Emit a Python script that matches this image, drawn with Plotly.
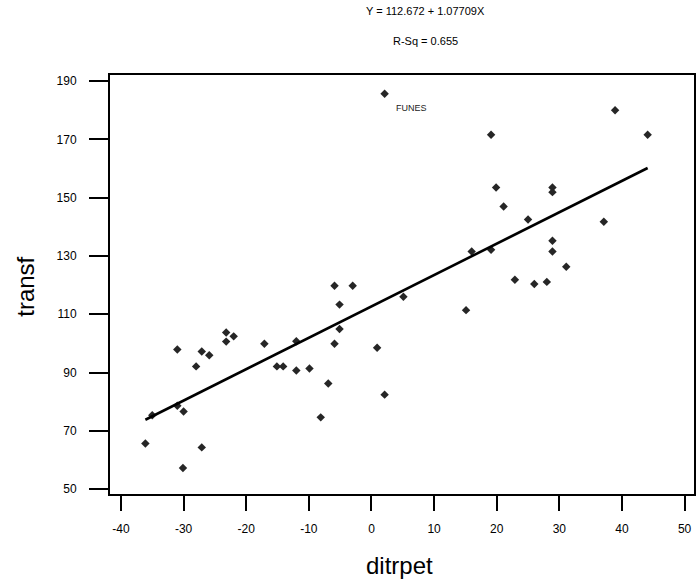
import plotly.graph_objects as go

# data
ditrpet = [-36.1, -35.0, -31.0, -31.0, -30.0, -30.1, -28.0, -27.1, -27.1, -25.9,
           -23.2, -23.2, -22.0, -17.1, -15.1, -14.1, -12.0, -12.0, -9.9, -8.1,
           -6.9, -5.9, -5.9, -5.1, -5.1, -3.0, 0.9, 2.1, 2.1, 5.1,
           15.1, 16.0, 19.1, 19.1, 19.9, 21.1, 22.9, 25.0, 26.0, 28.0,
           28.9, 28.9, 28.9, 28.9, 31.1, 37.1, 38.9, 44.1]
transf = [65.6, 75.3, 97.9, 78.6, 76.6, 57.2, 92.1, 97.2, 64.3, 95.9,
          103.7, 100.6, 102.4, 99.9, 92.1, 92.1, 100.7, 90.7, 91.4, 74.6,
          86.2, 119.8, 99.9, 113.3, 104.9, 119.8, 98.5, 82.4, 185.7, 116.0,
          111.4, 131.5, 132.1, 171.6, 153.5, 147.0, 121.8, 142.5, 120.4, 121.1,
          153.5, 151.9, 135.2, 131.5, 126.3, 141.7, 180.0, 171.6]

intercept = 112.672
slope = 1.07709
r_sq = 0.655

label_name = "FUNES"
label_x = 2.1
label_y = 185.7

x_ticks = list(range(-40, 51, 10))
y_ticks = list(range(50, 191, 20))

FONT = "Arial, Liberation Sans, sans-serif"

fig = go.Figure()

fig.add_trace(go.Scatter(
    x=ditrpet, y=transf, mode="markers",
    marker=dict(symbol="diamond", size=6.5, color="#262626"),
    showlegend=False, hoverinfo="x+y"))

fit_x = [min(ditrpet), max(ditrpet)]
fit_y = [intercept + slope * v for v in fit_x]
fig.add_trace(go.Scatter(
    x=fit_x, y=fit_y, mode="lines",
    line=dict(color="black", width=2.6),
    showlegend=False, hoverinfo="skip"))

fig.add_annotation(x=label_x, y=label_y, text=label_name, showarrow=False,
                   xanchor="left", yanchor="middle", xshift=9, yshift=-14,
                   font=dict(family=FONT, size=9, color="#222"))

fig.add_annotation(x=0.54, y=1.152, xref="paper", yref="paper",
                   text=f"Y = {intercept} + {slope}X", showarrow=False,
                   xanchor="center", yanchor="middle",
                   font=dict(family=FONT, size=11, color="black"))
fig.add_annotation(x=0.54, y=1.082, xref="paper", yref="paper",
                   text=f"R-Sq = {r_sq}", showarrow=False,
                   xanchor="center", yanchor="middle",
                   font=dict(family=FONT, size=11, color="black"))

fig.add_annotation(x=0.496, y=-0.171, xref="paper", yref="paper",
                   text="ditrpet", showarrow=False,
                   xanchor="center", yanchor="middle",
                   font=dict(family=FONT, size=24, color="black"))
fig.add_annotation(x=-0.146, y=0.494, xref="paper", yref="paper",
                   text="transf", showarrow=False, textangle=-90,
                   xanchor="center", yanchor="middle",
                   font=dict(family=FONT, size=24, color="black"))

fig.update_layout(
    width=699, height=587,
    margin=dict(l=110, r=3, t=75, b=93, pad=0),
    plot_bgcolor="white", paper_bgcolor="white",
    xaxis=dict(range=[-41.75, 51.5], tickvals=x_ticks,
               ticktext=[str(v) for v in x_ticks], ticks="outside",
               ticklen=15, tickwidth=2, tickcolor="black",
               showline=True, linecolor="black", linewidth=2, mirror=True,
               showgrid=False, zeroline=False, ticklabelstandoff=8,
               tickfont=dict(family=FONT, size=12, color="black")),
    yaxis=dict(range=[48.3, 192.1], tickvals=y_ticks,
               ticktext=[str(v) for v in y_ticks], ticks="outside",
               ticklen=19, tickwidth=2, tickcolor="black",
               showline=True, linecolor="black", linewidth=2, mirror=True,
               showgrid=False, zeroline=False, ticklabelstandoff=10,
               tickfont=dict(family=FONT, size=12, color="black")),
)

fig.write_html("out.html")
